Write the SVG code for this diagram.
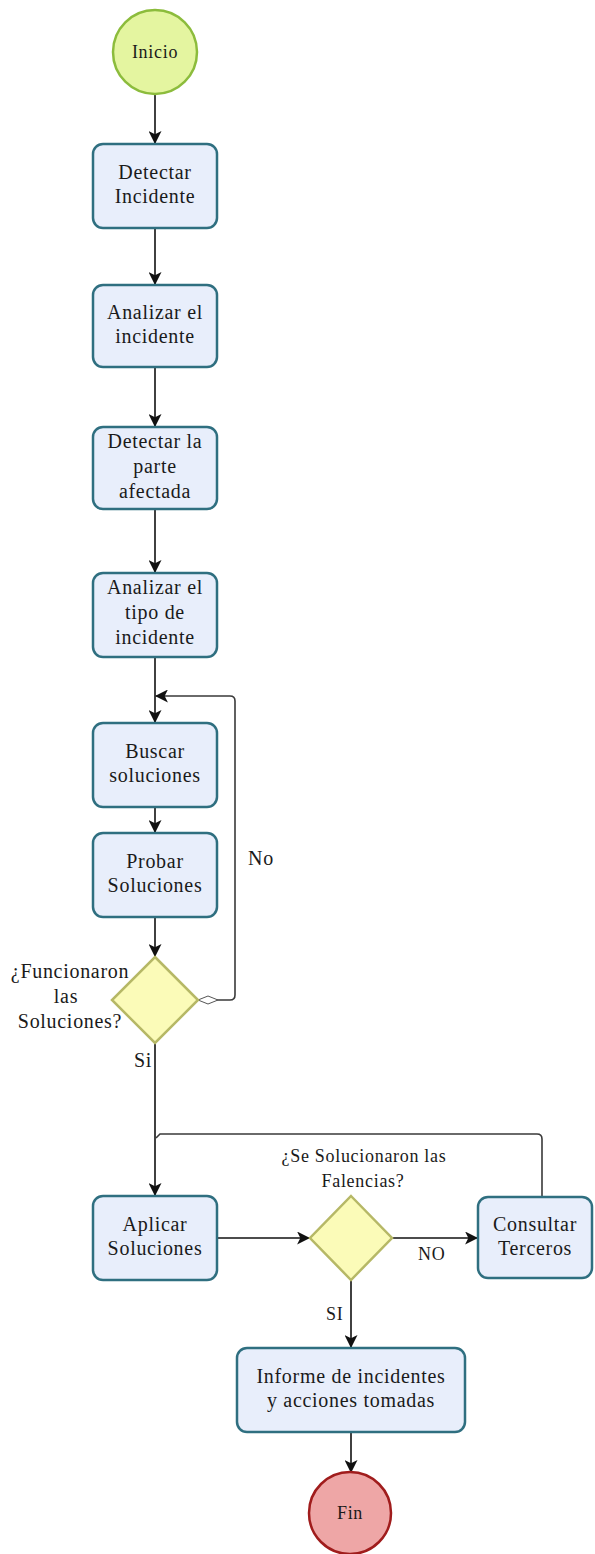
<svg xmlns="http://www.w3.org/2000/svg" width="595" height="1554" viewBox="0 0 595 1554" font-family="'Liberation Serif', 'Times New Roman', serif">
  <style>
    .task { fill: #e8eefb; stroke: #2f6f80; stroke-width: 2.5; }
    .start { fill: #e4f5a0; stroke: #8cbc3c; stroke-width: 2.5; }
    .end { fill: #eea6a6; stroke: #a01c1c; stroke-width: 2.5; }
    .gate { fill: #fbfbb8; stroke: #b6b866; stroke-width: 2.5; }
    .flow { fill: none; stroke: #111; stroke-width: 1.6; }
    .back { fill: none; stroke: #3a3a3a; stroke-width: 1.6; }
    text { font-family: "Liberation Serif", "Times New Roman", serif; fill: #1a1a1a; letter-spacing: 0.7px; }
    .t { font-size: 20px; text-anchor: middle; }
    .s { font-size: 18px; text-anchor: middle; }
    .lbl { font-size: 20px; }
  </style>
  <defs>
    <marker id="arrow" viewBox="0 0 12 12" refX="11" refY="6" markerWidth="13" markerHeight="13" markerUnits="userSpaceOnUse" orient="auto">
      <path d="M0,0 L12,6 L0,12 L3,6 Z" fill="#111"/>
    </marker>
    <marker id="cond" viewBox="0 0 22 10" refX="1" refY="5" markerWidth="22" markerHeight="10" markerUnits="userSpaceOnUse" orient="auto">
      <path d="M1,5 L11,1 L21,5 L11,9 Z" fill="#fff" stroke="#555" stroke-width="1"/>
    </marker>
  </defs>

  <!-- connectors -->
  <g id="connectors">
    <path class="flow" d="M155,94 V143" marker-end="url(#arrow)"/>
    <path class="flow" d="M155,228 V284" marker-end="url(#arrow)"/>
    <path class="flow" d="M155,367 V426" marker-end="url(#arrow)"/>
    <path class="flow" d="M155,509 V572" marker-end="url(#arrow)"/>
    <path class="flow" d="M155,657 V722" marker-end="url(#arrow)"/>
    <path class="flow" d="M155,807 V832" marker-end="url(#arrow)"/>
    <path class="flow" d="M155,917 V956" marker-end="url(#arrow)"/>
    <path class="back" d="M198,1000 H230 Q235,1000 235,995 V701 Q235,696 230,696 H156" marker-start="url(#cond)" marker-end="url(#arrow)"/>
    <path class="flow" d="M155,1043 V1195" marker-end="url(#arrow)"/>
    <path class="flow" d="M217,1238 H309" marker-end="url(#arrow)"/>
    <path class="flow" d="M392,1238 H477" marker-end="url(#arrow)"/>
    <path class="back" d="M542,1197 V1139 Q542,1134 537,1134 H160 L156,1138"/>
    <path class="flow" d="M351,1280 V1347" marker-end="url(#arrow)"/>
    <path class="flow" d="M351,1432 V1472" marker-end="url(#arrow)"/>
  </g>

  <g id="inicio">
    <circle class="start" cx="155" cy="52" r="42"/>
    <text class="s" x="155" y="58">Inicio</text>
  </g>

  <g id="detectar-incidente">
    <rect class="task" x="93" y="144" width="124" height="84" rx="10"/>
    <text class="t" x="155" y="179">Detectar</text>
    <text class="t" x="155" y="203">Incidente</text>
  </g>

  <g id="analizar-incidente">
    <rect class="task" x="93" y="285" width="124" height="82" rx="10"/>
    <text class="t" x="155" y="319">Analizar el</text>
    <text class="t" x="155" y="343">incidente</text>
  </g>

  <g id="detectar-parte">
    <rect class="task" x="93" y="427" width="124" height="82" rx="10"/>
    <text class="t" x="155" y="448">Detectar la</text>
    <text class="t" x="155" y="473">parte</text>
    <text class="t" x="155" y="498">afectada</text>
  </g>

  <g id="analizar-tipo">
    <rect class="task" x="93" y="573" width="124" height="84" rx="10"/>
    <text class="t" x="155" y="594">Analizar el</text>
    <text class="t" x="155" y="619">tipo de</text>
    <text class="t" x="155" y="644">incidente</text>
  </g>

  <g id="buscar-soluciones">
    <rect class="task" x="93" y="723" width="124" height="84" rx="10"/>
    <text class="t" x="155" y="758">Buscar</text>
    <text class="t" x="155" y="782">soluciones</text>
  </g>

  <g id="probar-soluciones">
    <rect class="task" x="93" y="833" width="124" height="84" rx="10"/>
    <text class="t" x="155" y="868">Probar</text>
    <text class="t" x="155" y="892">Soluciones</text>
  </g>

  <g id="funcionaron">
    <path class="gate" d="M155,957 L198,1000 L155,1043 L112,1000 Z"/>
    <text class="t" x="70" y="978">¿Funcionaron</text>
    <text class="t" x="66" y="1003">las</text>
    <text class="t" x="70" y="1028">Soluciones?</text>
  </g>

  <g id="aplicar-soluciones">
    <rect class="task" x="93" y="1196" width="124" height="84" rx="10"/>
    <text class="t" x="155" y="1231">Aplicar</text>
    <text class="t" x="155" y="1255">Soluciones</text>
  </g>

  <g id="solucionaron">
    <path class="gate" d="M351,1196 L392,1238 L351,1280 L310,1238 Z"/>
    <text class="s" x="364" y="1162">¿Se Solucionaron las</text>
    <text class="s" x="363" y="1187">Falencias?</text>
  </g>

  <g id="consultar-terceros">
    <rect class="task" x="478" y="1197" width="114" height="81" rx="10"/>
    <text class="t" x="535" y="1231">Consultar</text>
    <text class="t" x="535" y="1255">Terceros</text>
  </g>

  <g id="informe">
    <rect class="task" x="237" y="1348" width="228" height="84" rx="10"/>
    <text class="t" x="351" y="1383">Informe de incidentes</text>
    <text class="t" x="351" y="1407">y acciones tomadas</text>
  </g>

  <g id="fin">
    <circle class="end" cx="350" cy="1513" r="41"/>
    <text class="s" x="350" y="1519">Fin</text>
  </g>

  <!-- flow labels -->
  <g id="labels">
    <text class="lbl" x="248" y="865">No</text>
    <text class="lbl" x="134" y="1067">Si</text>
    <text class="lbl" x="418" y="1260" style="font-size:18px">NO</text>
    <text class="lbl" x="326" y="1320" style="font-size:18px">SI</text>
  </g>
</svg>
